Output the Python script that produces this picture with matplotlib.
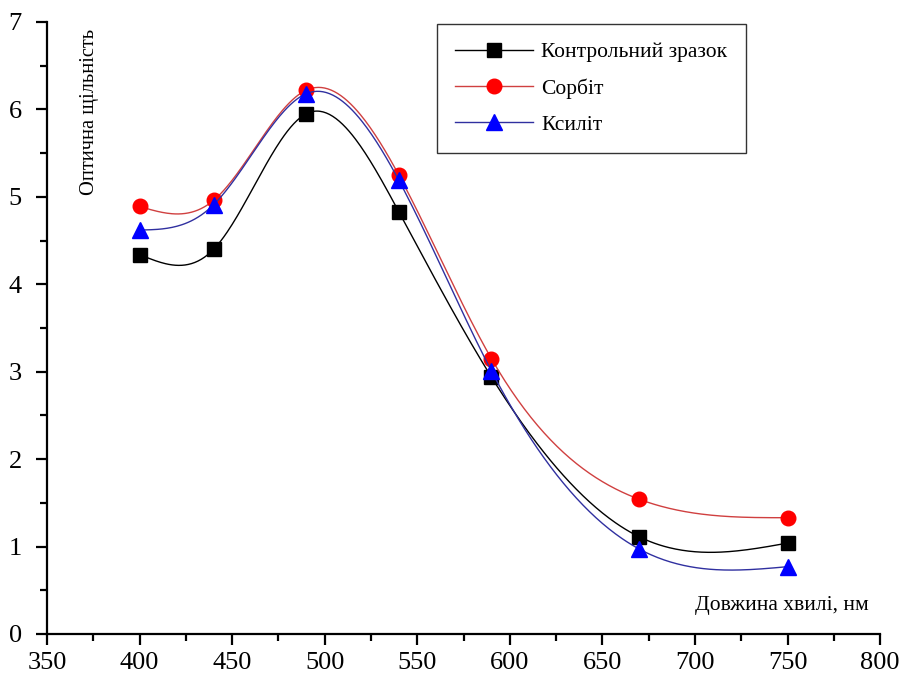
import numpy as np
import matplotlib
matplotlib.use("Agg")
import matplotlib.pyplot as plt
from matplotlib.ticker import MultipleLocator

wavelength = [400, 440, 490, 540, 590, 670, 750]
control = [4.34, 4.40, 5.95, 4.83, 2.94, 1.11, 1.04]
sorbit = [4.89, 4.96, 6.22, 5.25, 3.15, 1.54, 1.33]
xylit = [4.62, 4.91, 6.18, 5.19, 3.01, 0.97, 0.77]
labels = ["Контрольний зразок", "Сорбіт", "Ксиліт"]


def natural_spline(x, y, xs):
    x = np.asarray(x, float); y = np.asarray(y, float)
    n = len(x)
    h = np.diff(x)
    A = np.zeros((n, n)); b = np.zeros(n)
    A[0, 0] = 1; A[-1, -1] = 1
    for i in range(1, n - 1):
        A[i, i - 1] = h[i - 1]
        A[i, i] = 2 * (h[i - 1] + h[i])
        A[i, i + 1] = h[i]
        b[i] = 3 * ((y[i + 1] - y[i]) / h[i] - (y[i] - y[i - 1]) / h[i - 1])
    c = np.linalg.solve(A, b)
    out = np.empty_like(xs)
    for k, xv in enumerate(xs):
        i = min(max(np.searchsorted(x, xv) - 1, 0), n - 2)
        dx = xv - x[i]
        bi = (y[i + 1] - y[i]) / h[i] - h[i] * (2 * c[i] + c[i + 1]) / 3
        di = (c[i + 1] - c[i]) / (3 * h[i])
        out[k] = y[i] + bi * dx + c[i] * dx ** 2 + di * dx ** 3
    return out


plt.rcParams['font.family'] = ['Liberation Serif', 'DejaVu Serif']
fig = plt.figure(figsize=(9, 6.78), dpi=100)
ax = fig.add_axes([0.0522, 0.0649, 0.9258, 0.9027])

xs = np.linspace(wavelength[0], wavelength[-1], 400)
styles = [
    (control, 'black', 's', 10, 'black'),
    (sorbit, '#d04040', 'o', 10.5, 'red'),
    (xylit, '#3030a0', '^', 11, 'blue'),
]
for (ys, lc, m, ms, mc), lab in zip(styles, labels):
    ax.plot(xs, natural_spline(wavelength, ys, xs), color=lc, lw=1.0)
    ax.plot(wavelength, ys, linestyle='none', marker=m, markersize=ms,
            color=mc, markeredgecolor=mc)
    ax.plot([], [], color=lc, lw=1.0, marker=m, markersize=ms,
            markerfacecolor=mc, markeredgecolor=mc, label=lab)

ax.set_xlim(350, 800)
ax.set_ylim(0, 7)
ax.xaxis.set_major_locator(MultipleLocator(50))
ax.xaxis.set_minor_locator(MultipleLocator(25))
ax.yaxis.set_major_locator(MultipleLocator(1))
ax.yaxis.set_minor_locator(MultipleLocator(0.5))
for s in ['top', 'right']:
    ax.spines[s].set_visible(False)
for s in ['left', 'bottom']:
    ax.spines[s].set_linewidth(1.6)
ax.tick_params(which='major', direction='out', length=8, width=1.6, labelsize=19)
ax.tick_params(which='minor', direction='out', length=5, width=1.6)
ax.tick_params(axis='y', pad=10)
ax.tick_params(axis='x', pad=5)

ax.text(373, 6.92, "Оптична щільність", rotation=90, fontsize=14.8,
        ha='center', va='top')
ax.text(747, 0.33, "Довжина хвилі, нм", fontsize=15.5, ha='center', va='center')

leg = ax.legend(loc='upper left', bbox_to_anchor=(0.468, 0.997), fontsize=15.5,
                frameon=True, fancybox=False, edgecolor='black',
                handlelength=3.6, borderpad=0.85, labelspacing=0.75,
                handletextpad=0.4, borderaxespad=0)
leg.get_frame().set_linewidth(1.0)

fig.savefig("out.png", dpi=100)
